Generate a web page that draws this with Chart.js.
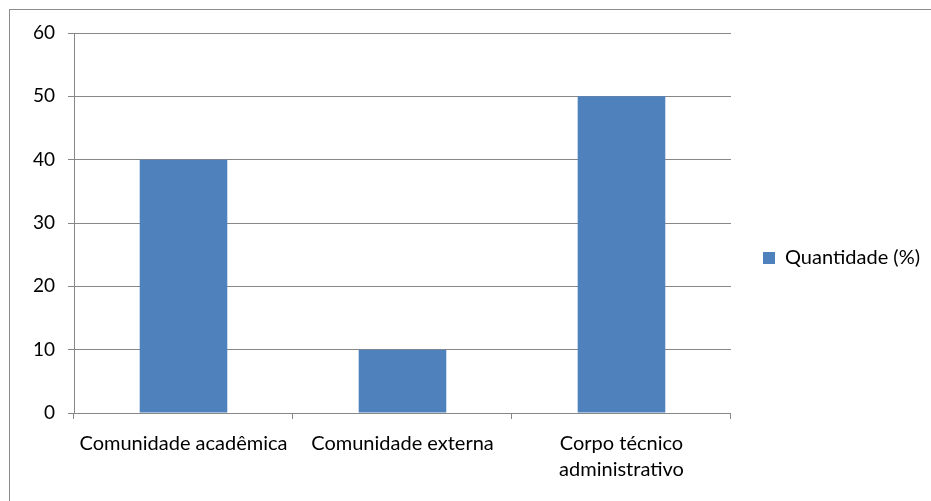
<!DOCTYPE html>
<html><head><meta charset="utf-8">
<script src="https://cdn.jsdelivr.net/npm/chart.js@4/dist/chart.umd.min.js"></script>
<style>html,body{margin:0;padding:0;background:#fff}#wrap{width:931px;height:501px;position:relative}</style>
</head><body><div id="wrap"><canvas id="c"></canvas></div>
<script>
const categories = [["Comunidade acadêmica"], ["Comunidade externa"], ["Corpo técnico", "administrativo"]];
const seriesName = "Quantidade (%)";
const values = [40, 10, 50];
const yTicks = [0, 10, 20, 30, 40, 50, 60];

const FONT = "Lato";
const GRID = "#878787";

const framePlugin = {
  id: 'frame',
  afterDraw(chart) {
    const ctx = chart.ctx;
    ctx.save();
    ctx.strokeStyle = "#8c8c8c";
    ctx.lineWidth = 1;
    ctx.strokeRect(9.5, 9.5, 940, 520);
    ctx.restore();
  }
};
const legendShift = {
  id: 'legendShift',
  afterLayout(chart) {
    const lg = chart.legend;
    const h = lg.bottom - lg.top;
    const cy = 258;
    lg.top = cy - h / 2; lg.bottom = cy + h / 2;
    const w = lg.right - lg.left;
    lg.left = 753; lg.right = 753 + w;
  }
};

new Chart(document.getElementById('c'), {
  type: 'bar',
  data: {
    labels: categories,
    datasets: [{
      label: seriesName,
      data: values,
      backgroundColor: '#4F81BD',
      borderWidth: 0,
      barPercentage: 0.4,
      categoryPercentage: 1.0
    }]
  },
  options: {
    responsive: true,
    maintainAspectRatio: false,
    animation: false,
    devicePixelRatio: 1,
    layout: { padding: { left: 11, top: 33, right: 23, bottom: 0 } },
    plugins: {
      legend: {
        position: 'right',
        labels: { boxWidth: 12, boxHeight: 12, color: '#000', font: { family: FONT, size: 20 }, padding: 10 }
      },
      tooltip: { enabled: false }
    },
    scales: {
      x: {
        offset: true,
        grid: { offset: true, drawOnChartArea: false, drawTicks: true, tickLength: 6, color: GRID },
        border: { color: GRID, width: 1 },
        ticks: { color: '#000', font: { family: FONT, size: 20, lineHeight: 1.3 }, padding: 12, maxRotation: 0, autoSkip: false },
        afterFit(s) { s.height = 88; }
      },
      y: {
        min: 0, max: 60,
        afterBuildTicks(s) { s.ticks = yTicks.map(v => ({ value: v })); },
        grid: { color: GRID, tickLength: 6, drawTicks: true },
        border: { color: GRID, width: 1 },
        ticks: { color: '#000', font: { family: FONT, size: 19 }, padding: 13 },
        afterFit(s) { s.width = 63; }
      }
    }
  },
  plugins: [framePlugin, legendShift]
});
</script></body></html>
